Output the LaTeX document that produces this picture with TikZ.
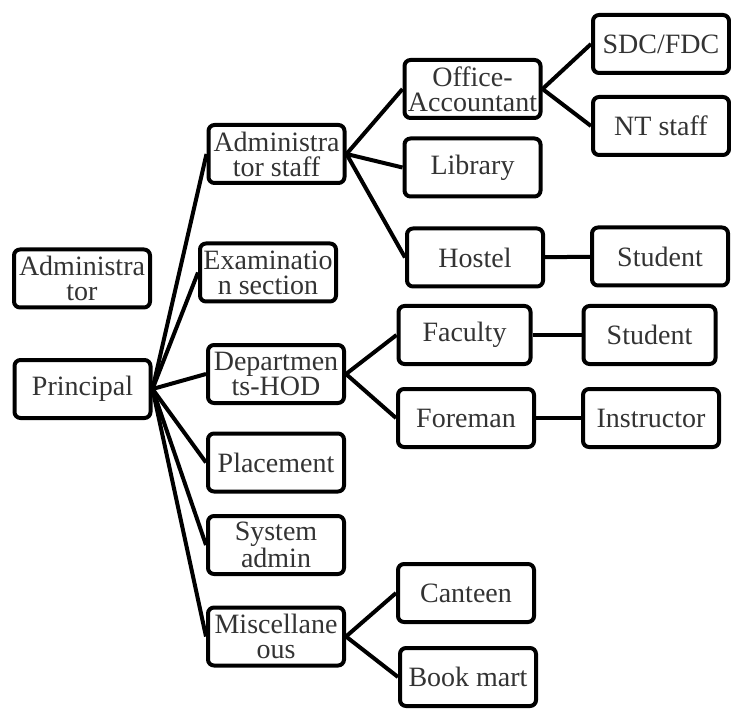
\documentclass[tikz,border=0pt]{standalone}
\usepackage{fontspec}
\setmainfont{Liberation Serif}

\begin{document}
\begin{tikzpicture}[x=0.5pt, y=-0.5pt,
    box/.style={draw, line width=2pt, rounded corners=3pt, minimum width=68pt,
        minimum height=29pt, inner sep=0pt, align=center, text=black!80,
        font=\fontsize{14}{12.5}\selectfont},
    link/.style={line width=2pt}]

        \useasboundingbox (0,0) rectangle (731,710);

        % Left column
        \node[box] (admin) at (82, 278.5) {Administra\\tor};
        \node[box] (principal) at (82.5, 389) {Principal};

        % Second level
        \node[box] (adstaff) at (276.5, 154) {Administra\\tor staff};
        \node[box] (exam) at (268, 272.5) {Examinatio\\n section};
        \node[box] (dept) at (276, 374) {Departmen\\ts-HOD};
        \node[box] (place) at (276, 462.5) {Placement};
        \node[box] (sysadm) at (276, 545) {System\\admin};
        \node[box] (misc) at (276, 636.5) {Miscellane\\ous};

        % Third level
        \node[box] (office) at (472.5, 89) {Office-\\Accountant};
        \node[box] (library) at (472.5, 167.5) {Library};
        \node[box] (hostel) at (475, 257.5) {Hostel};
        \node[box, minimum width=66pt] (faculty) at (464.5, 335) {Faculty};
        \node[box] (foreman) at (466, 418) {Foreman};
        \node[box] (canteen) at (466, 593) {Canteen};
        \node[box] (bookmart) at (468, 677) {Book mart};

        % Fourth level
        \node[box] (sdc) at (661, 44) {SDC/FDC};
        \node[box] (ntstaff) at (661, 126) {NT staff};
        \node[box] (studenta) at (660, 256.5) {Student};
        \node[box, minimum width=66pt] (studentb) at (649.5, 335) {Student};
        \node[box] (instructor) at (651, 418) {Instructor};

        % Principal to second level
        \foreach \n in {adstaff, exam, dept, place, sysadm, misc}
            \draw[link] (principal.east) -- (\n.west);

        % Administrator staff branch
        \foreach \n in {office, library, hostel}
            \draw[link] (adstaff.east) -- (\n.west);
        \draw[link] (office.east) -- (sdc.west);
        \draw[link] (office.east) -- (ntstaff.west);
        \draw[link] (hostel) -- (studenta);

        % Departments branch
        \draw[link] (dept.east) -- (faculty.west);
        \draw[link] (dept.east) -- (foreman.west);
        \draw[link] (faculty) -- (studentb);
        \draw[link] (foreman) -- (instructor);

        % Miscellaneous branch
        \draw[link] (misc.east) -- (canteen.west);
        \draw[link] (misc.east) -- (bookmart.west);

    \end{tikzpicture}
\end{document}
